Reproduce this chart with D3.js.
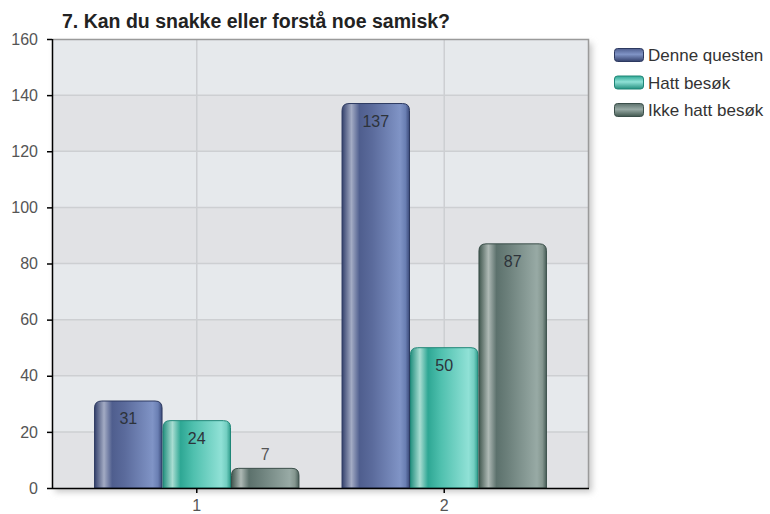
<!DOCTYPE html>
<html>
<head>
<meta charset="utf-8">
<script src="https://cdn.jsdelivr.net/npm/d3@7"></script>
<style>
  body { margin: 0; background: #fff; }
  svg { display: block; font-family: "Liberation Sans", Arial, sans-serif; }
</style>
</head>
<body>
<svg id="chart" width="770" height="514"></svg>
<script>
// Chart data
const title = "7. Kan du snakke eller forstå noe samisk?";
const categories = ["1", "2"];
const seriesNames = ["Denne questen", "Hatt besøk", "Ikke hatt besøk"];
const denneQuesten = [31, 137];
const hattBesok = [24, 50];
const ikkeHattBesok = [7, 87];
const yTicks = [0, 20, 40, 60, 80, 100, 120, 140, 160];

const seriesValues = [denneQuesten, hattBesok, ikkeHattBesok];

// gradient stops per series (left -> right across the bar)
const palettes = [
  { stroke: "#2c3960", stops: ["#34416c", "#a3abc4", "#4f5e8e", "#5b6b9c", "#8094c6", "#6a7fb3", "#3b4a7a"] },
  { stroke: "#1f8677", stops: ["#24907f", "#a8ddd2", "#2ea794", "#4fc0ae", "#90e1d6", "#74cfc2", "#2f9d8c"] },
  { stroke: "#3b4f4a", stops: ["#41574f", "#aeb9b5", "#5c716c", "#6e827d", "#98aaa5", "#84968f", "#4a5f5a"] }
];
const stopOffsets = [0, 0.14, 0.26, 0.45, 0.86, 0.94, 1];

const margin = { left: 52, right: 181, top: 39, bottom: 26 };
const width = 770, height = 514;
const plotW = width - margin.left - margin.right;
const plotH = height - margin.top - margin.bottom;

const svg = d3.select("#chart");
const defs = svg.append("defs");

palettes.forEach((p, i) => {
  const grad = defs.append("linearGradient")
    .attr("id", "bar-grad-" + i)
    .attr("x1", "0%").attr("x2", "100%")
    .attr("y1", "0%").attr("y2", "0%");
  p.stops.forEach((c, j) => {
    grad.append("stop").attr("offset", stopOffsets[j]).attr("stop-color", c);
  });
  const lg = defs.append("linearGradient")
    .attr("id", "leg-grad-" + i)
    .attr("x1", "0%").attr("x2", "0%")
    .attr("y1", "0%").attr("y2", "100%");
  lg.append("stop").attr("offset", 0).attr("stop-color", p.stops[2]);
  lg.append("stop").attr("offset", 0.45).attr("stop-color", p.stops[4]);
  lg.append("stop").attr("offset", 1).attr("stop-color", p.stops[0]);
});

const shadow = defs.append("filter").attr("id", "shadow")
  .attr("x", "-5%").attr("y", "-5%").attr("width", "115%").attr("height", "115%");
shadow.append("feGaussianBlur").attr("stdDeviation", 3);

// Title
svg.append("text")
  .attr("x", 62)
  .attr("y", 28)
  .style("font-size", "19.5px")
  .style("font-weight", "bold")
  .style("fill", "#222")
  .text(title);

const g = svg.append("g").attr("transform", `translate(${margin.left},${margin.top})`);

const y = d3.scaleLinear().domain([0, 160]).range([plotH, 0]);
const x0 = d3.scaleBand().domain(categories).range([0, plotW])
  .paddingInner(0.17).paddingOuter(0.17);
const x1 = d3.scaleBand().domain(seriesNames).range([0, x0.bandwidth()]);

// plot shadow + background bands
g.append("rect")
  .attr("x", 3).attr("y", 4)
  .attr("width", plotW).attr("height", plotH)
  .attr("fill", "#c8c8c8")
  .attr("filter", "url(#shadow)");

g.append("rect")
  .attr("width", plotW).attr("height", plotH)
  .attr("fill", "#e6e9ec");

g.selectAll(".band")
  .data(d3.pairs(yTicks))
  .join("rect")
  .attr("class", "band")
  .attr("x", 0)
  .attr("y", d => y(d[1]))
  .attr("width", plotW)
  .attr("height", d => y(d[0]) - y(d[1]))
  .attr("fill", (d, i) => i % 2 === 0 ? "#e1e2e5" : "#e6e9ec");

// grid lines
g.selectAll(".hgrid")
  .data(yTicks.slice(1, -1))
  .join("line")
  .attr("class", "hgrid")
  .attr("x1", 0).attr("x2", plotW)
  .attr("y1", d => y(d)).attr("y2", d => y(d))
  .attr("stroke", "#cdcfd2")
  .attr("stroke-width", 1.5);

g.selectAll(".vgrid")
  .data(categories)
  .join("line")
  .attr("class", "vgrid")
  .attr("x1", d => x0(d) + x0.bandwidth() / 2)
  .attr("x2", d => x0(d) + x0.bandwidth() / 2)
  .attr("y1", 0).attr("y2", plotH)
  .attr("stroke", "#cdcfd2")
  .attr("stroke-width", 1.5);

// top / right border
g.append("path")
  .attr("d", `M0,0.5H${plotW - 0.5}V${plotH}`)
  .attr("fill", "none")
  .attr("stroke", "#9a9a9a")
  .attr("stroke-width", 1.5);

// Rounded-top bar path
function barPath(bx, by, bw, bh) {
  const r = Math.min(7, bh / 2, bw / 2);
  return `M${bx},${by + bh}V${by + r}Q${bx},${by} ${bx + r},${by}` +
    `H${bx + bw - r}Q${bx + bw},${by} ${bx + bw},${by + r}V${by + bh}Z`;
}

const barData = [];
categories.forEach((c, ci) => {
  seriesNames.forEach((s, si) => {
    barData.push({ cat: c, series: s, si: si, value: seriesValues[si][ci] });
  });
});

g.selectAll(".bar")
  .data(barData)
  .join("path")
  .attr("class", "bar")
  .attr("d", d => {
    const bx = x0(d.cat) + x1(d.series);
    const by = y(d.value);
    return barPath(bx + 0.5, by, x1.bandwidth() - 1, plotH - by);
  })
  .attr("fill", d => `url(#bar-grad-${d.si})`)
  .attr("stroke", d => palettes[d.si].stroke)
  .attr("stroke-width", 1);

// value labels
g.selectAll(".val")
  .data(barData)
  .join("text")
  .attr("class", "val")
  .attr("x", d => x0(d.cat) + x1(d.series) + x1.bandwidth() / 2)
  .attr("y", d => {
    const h = plotH - y(d.value);
    return h > 40 ? y(d.value) + 23 : y(d.value) - 8;
  })
  .attr("text-anchor", "middle")
  .style("font-size", "16px")
  .style("fill", d => (plotH - y(d.value)) > 40 ? "#2d333a" : "#555")
  .text(d => d.value);

// Axes
const yAxis = g.append("g")
  .call(d3.axisLeft(y).tickValues(yTicks).tickSize(5).tickPadding(9));
const xAxis = g.append("g")
  .attr("transform", `translate(0,${plotH})`)
  .call(d3.axisBottom(x0).tickSize(5).tickPadding(7).tickSizeOuter(0));

[yAxis, xAxis].forEach(ax => {
  ax.select(".domain").attr("stroke", "#000").attr("stroke-width", 1.5);
  ax.selectAll(".tick line").attr("stroke", "#000").attr("stroke-width", 1.5);
  ax.selectAll(".tick text")
    .style("font-size", "16px")
    .style("font-family", "'Liberation Sans', Arial, sans-serif")
    .attr("fill", "#555");
});
yAxis.select(".domain").attr("d", `M0.5,0V${plotH}`);
xAxis.select(".domain").attr("d", `M0,0.5H${plotW}`);

// Legend
const legend = svg.append("g").attr("transform", "translate(614,48)");
const item = legend.selectAll(".leg")
  .data(seriesNames)
  .join("g")
  .attr("class", "leg")
  .attr("transform", (d, i) => `translate(0,${i * 27.5})`);

item.append("rect")
  .attr("x", 0.5).attr("y", 0.5)
  .attr("width", 29).attr("height", 13)
  .attr("rx", 3).attr("ry", 3)
  .attr("fill", (d, i) => `url(#leg-grad-${i})`)
  .attr("stroke", (d, i) => palettes[i].stroke);

item.append("text")
  .attr("x", 34)
  .attr("y", 13)
  .style("font-size", "17px")
  .style("fill", "#333")
  .text(d => d);
</script>
</body>
</html>
